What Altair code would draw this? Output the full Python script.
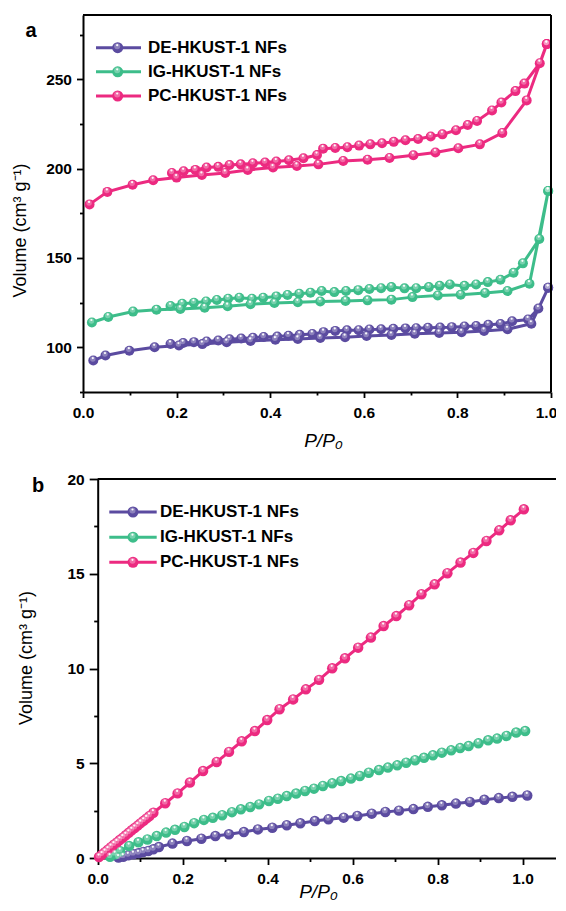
import altair as alt
import pandas as pd

FONT = "Liberation Sans"
SERIES = ["DE-HKUST-1 NFs", "IG-HKUST-1 NFs", "PC-HKUST-1 NFs"]
COLORS = ["#5B4BA0", "#3DBD8A", "#EC2A80"]

# ---------------- panel a : N2 isotherms (adsorption + desorption) ----------------
DE_ADS_X = [0.022, 0.048, 0.099, 0.153, 0.205, 0.255, 0.307, 0.358, 0.411, 0.459, 0.507,
            0.560, 0.606, 0.659, 0.709, 0.761, 0.809, 0.857, 0.907, 0.958, 0.994]
DE_ADS_Y = [92.6, 95.4, 98.1, 100.0, 101.0, 101.8, 102.9, 103.6, 104.3, 104.7, 105.2,
            105.7, 106.4, 106.9, 107.6, 108.0, 108.4, 109.2, 110.1, 113.2, 133.3]
DE_DES_X = [0.994, 0.973, 0.951, 0.917, 0.892, 0.866, 0.840, 0.815, 0.788, 0.763, 0.737,
            0.712, 0.689, 0.663, 0.637, 0.612, 0.589, 0.564, 0.539, 0.514, 0.490, 0.463,
            0.439, 0.415, 0.386, 0.363, 0.338, 0.313, 0.289, 0.264, 0.237, 0.214, 0.187]
DE_DES_Y = [133.3, 121.7, 115.6, 114.6, 113.0, 112.6, 111.9, 111.7, 111.3, 111.1, 111.0,
            110.7, 110.6, 110.4, 110.1, 110.0, 109.6, 109.5, 109.2, 108.5, 107.5, 107.0,
            106.5, 106.0, 105.8, 105.4, 104.9, 104.5, 103.8, 103.3, 102.9, 102.4, 101.9]

IG_ADS_X = [0.019, 0.054, 0.107, 0.157, 0.208, 0.260, 0.309, 0.358, 0.409, 0.459, 0.507,
            0.561, 0.608, 0.659, 0.704, 0.758, 0.807, 0.859, 0.907, 0.954, 0.994]
IG_ADS_Y = [113.9, 117.0, 120.0, 121.1, 121.5, 122.2, 123.0, 124.1, 124.8, 125.2, 125.7,
            126.0, 126.3, 126.7, 128.1, 129.0, 129.4, 130.4, 131.5, 135.6, 187.5]
IG_DES_X = [0.994, 0.975, 0.940, 0.920, 0.892, 0.865, 0.840, 0.815, 0.784, 0.762, 0.739,
            0.712, 0.687, 0.659, 0.637, 0.612, 0.588, 0.562, 0.537, 0.510, 0.486, 0.462,
            0.437, 0.413, 0.385, 0.361, 0.334, 0.310, 0.286, 0.263, 0.237, 0.212, 0.187]
IG_DES_Y = [187.5, 160.6, 147.0, 141.7, 137.8, 136.5, 135.2, 134.4, 135.2, 134.4, 133.7,
            133.1, 133.0, 133.7, 133.1, 132.6, 132.0, 131.5, 130.9, 131.5, 130.6, 130.0,
            129.3, 128.5, 127.8, 127.2, 127.8, 127.2, 126.5, 125.7, 125.0, 124.4, 123.1]

PC_ADS_X = [0.014, 0.052, 0.106, 0.150, 0.200, 0.254, 0.304, 0.352, 0.406, 0.457, 0.503,
            0.556, 0.608, 0.655, 0.706, 0.753, 0.802, 0.848, 0.896, 0.948, 0.991]
PC_ADS_Y = [180.0, 187.0, 191.0, 193.5, 195.0, 196.5, 197.6, 199.3, 200.6, 201.5, 202.4,
            204.3, 205.0, 206.0, 207.5, 209.0, 211.4, 213.6, 220.0, 238.2, 269.7]
PC_DES_X = [0.991, 0.976, 0.943, 0.924, 0.894, 0.874, 0.842, 0.822, 0.797, 0.768, 0.743,
            0.716, 0.689, 0.664, 0.639, 0.614, 0.590, 0.565, 0.539, 0.513, 0.500, 0.471,
            0.440, 0.413, 0.389, 0.363, 0.337, 0.313, 0.289, 0.264, 0.240, 0.215, 0.190]
PC_DES_Y = [269.7, 259.0, 247.6, 243.4, 237.0, 232.6, 226.7, 224.4, 221.5, 219.2, 218.0,
            216.6, 215.9, 215.0, 214.2, 213.6, 212.9, 212.0, 211.6, 211.2, 207.6, 205.8,
            204.7, 204.0, 203.4, 203.0, 202.4, 202.0, 201.0, 200.6, 199.3, 198.5, 197.6]

# ---------------- panel b : low-pressure isotherms ----------------
DE_LOW_X = [0.049, 0.060, 0.072, 0.084, 0.096, 0.107, 0.119, 0.131, 0.144, 0.176, 0.210,
            0.244, 0.277, 0.309, 0.344, 0.377, 0.411, 0.445, 0.477, 0.511, 0.543, 0.579,
            0.611, 0.645, 0.677, 0.709, 0.743, 0.777, 0.810, 0.843, 0.876, 0.910, 0.944,
            0.976, 1.011]
DE_LOW_Y = [0.02, 0.07, 0.14, 0.20, 0.25, 0.32, 0.37, 0.46, 0.58, 0.76, 0.90,
            1.02, 1.16, 1.25, 1.37, 1.51, 1.60, 1.73, 1.83, 1.95, 2.04, 2.13,
            2.22, 2.34, 2.43, 2.50, 2.58, 2.70, 2.78, 2.87, 2.96, 3.07, 3.16,
            3.23, 3.30]

IG_LOW_X = [0.029, 0.041, 0.053, 0.074, 0.096, 0.117, 0.139, 0.161, 0.182, 0.204, 0.227,
            0.250, 0.271, 0.293, 0.316, 0.337, 0.359, 0.380, 0.403, 0.424, 0.445, 0.467,
            0.488, 0.509, 0.530, 0.552, 0.573, 0.596, 0.617, 0.638, 0.662, 0.683, 0.705,
            0.726, 0.747, 0.768, 0.789, 0.810, 0.832, 0.853, 0.873, 0.896, 0.919, 0.940,
            0.962, 0.985, 1.006]
IG_LOW_Y = [0.07, 0.20, 0.36, 0.63, 0.83, 0.98, 1.16, 1.34, 1.49, 1.64, 1.84,
            2.01, 2.12, 2.26, 2.42, 2.57, 2.69, 2.83, 3.01, 3.13, 3.27, 3.40,
            3.54, 3.66, 3.80, 3.94, 4.06, 4.19, 4.33, 4.50, 4.64, 4.77, 4.89,
            5.03, 5.16, 5.29, 5.42, 5.56, 5.68, 5.80, 5.91, 6.05, 6.21, 6.30,
            6.44, 6.62, 6.70]

PC_LOW_X = [0.003, 0.010, 0.017, 0.024, 0.031, 0.038, 0.045, 0.052, 0.059, 0.066, 0.073,
            0.080, 0.087, 0.094, 0.101, 0.108, 0.115, 0.122, 0.131, 0.159, 0.188, 0.217,
            0.248, 0.280, 0.309, 0.339, 0.370, 0.399, 0.428, 0.460, 0.490, 0.521, 0.552,
            0.582, 0.613, 0.643, 0.673, 0.703, 0.733, 0.762, 0.793, 0.823, 0.854, 0.884,
            0.915, 0.945, 0.972, 1.003]
PC_LOW_Y = [0.05, 0.18, 0.31, 0.44, 0.57, 0.70, 0.82, 0.95, 1.07, 1.20, 1.33,
            1.46, 1.58, 1.71, 1.84, 1.96, 2.09, 2.22, 2.39, 2.89, 3.41, 3.98,
            4.59, 5.07, 5.60, 6.16, 6.70, 7.28, 7.85, 8.37, 8.90, 9.40, 10.01,
            10.54, 11.10, 11.63, 12.24, 12.77, 13.34, 13.92, 14.44, 15.03, 15.59, 16.10,
            16.73, 17.29, 17.82, 18.40]

# tick values / frame limits
TOP_X_TICKS = [0.0, 0.1, 0.2, 0.3, 0.4, 0.5, 0.6, 0.7, 0.8, 0.9, 1.0]
TOP_Y_TICKS = [75, 100, 125, 150, 175, 200, 225, 250, 275]
BOT_X_TICKS = [0.0, 0.1, 0.2, 0.3, 0.4, 0.5, 0.6, 0.7, 0.8, 0.9, 1.0]
BOT_Y_TICKS = [0, 2.5, 5, 7.5, 10, 12.5, 15, 17.5, 20]
TOP_X_DOMAIN = [0, 1]
TOP_Y_DOMAIN = [75, 286]
BOT_X_DOMAIN = [0, 1.081]
BOT_Y_DOMAIN = [0, 20]

TOP_W, TOP_H = 468, 377
BOT_W, BOT_H = 474, 379
BOT_X0 = 14.7


def frame(parts):
    rows = []
    for name, xs, ys in parts:
        for i, (x, y) in enumerate(zip(xs, ys)):
            rows.append({"series": name, "p": x, "v": y, "idx": i})
    return pd.DataFrame(rows)


top_df = frame([
    (SERIES[0], DE_ADS_X + DE_DES_X, DE_ADS_Y + DE_DES_Y),
    (SERIES[1], IG_ADS_X + IG_DES_X, IG_ADS_Y + IG_DES_Y),
    (SERIES[2], PC_ADS_X + PC_DES_X, PC_ADS_Y + PC_DES_Y),
])
bot_df = frame([
    (SERIES[0], DE_LOW_X, DE_LOW_Y),
    (SERIES[1], IG_LOW_X, IG_LOW_Y),
    (SERIES[2], PC_LOW_X, PC_LOW_Y),
])
legend_df = pd.DataFrame({"series": SERIES})

MINOR_X = "round(datum.value*10) % 2 == 1"


def color_enc():
    return alt.Color("series:N", scale=alt.Scale(domain=SERIES, range=COLORS), legend=None)


def panel_label(text, x, y):
    return alt.Chart(pd.DataFrame({"t": [text]})).mark_text(
        fontSize=20, fontWeight="bold", align="center", baseline="alphabetic", color="black"
    ).encode(x=alt.value(x), y=alt.value(y), text="t:N")


def hline(x1, x2, y):
    return alt.Chart(pd.DataFrame({"k": [0]})).mark_rule(color="black", strokeWidth=2).encode(
        x=alt.value(x1), x2=alt.value(x2), y=alt.value(y))


def vline(x, y1, y2):
    return alt.Chart(pd.DataFrame({"k": [0]})).mark_rule(color="black", strokeWidth=2).encode(
        x=alt.value(x), y=alt.value(y1), y2=alt.value(y2))


def series_layers(df, x_enc, y_enc, size):
    base = alt.Chart(df)
    line = base.mark_line(strokeWidth=3).encode(x=x_enc, y=y_enc, color=color_enc(), order="idx:Q")
    pts = base.mark_circle(size=size, opacity=1).encode(x="p:Q", y="v:Q", color=color_enc())
    glow = base.mark_circle(size=size * 0.3, color="white", opacity=0.3,
                            xOffset=-0.5, yOffset=-1.5).encode(x="p:Q", y="v:Q")
    dot = base.mark_circle(size=5, color="white", opacity=0.95,
                           xOffset=-0.5, yOffset=-2.5).encode(x="p:Q", y="v:Q")
    return [line, pts, glow, dot]


def legend_block(row_top, row_bottom, x1, x2, xc, xt):
    # legend rows placed by a point scale over the series names
    y_enc = alt.Y("series:N", axis=None,
                  scale=alt.Scale(type="point", domain=SERIES, range=[row_top, row_bottom], padding=0))
    base = alt.Chart(legend_df)
    seg = base.mark_rule(strokeWidth=3).encode(
        x=alt.value(x1), x2=alt.value(x2), y=y_enc, color=color_enc())
    mk = base.mark_circle(size=121, opacity=1).encode(x=alt.value(xc), y=y_enc, color=color_enc())
    glow = base.mark_circle(size=36, color="white", opacity=0.3,
                            xOffset=-0.5, yOffset=-1.5).encode(x=alt.value(xc), y=y_enc)
    dot = base.mark_circle(size=5, color="white", opacity=0.95,
                           xOffset=-0.5, yOffset=-2.5).encode(x=alt.value(xc), y=y_enc)
    txt = base.mark_text(align="left", baseline="middle", fontSize=17, fontWeight="bold",
                         color="black").encode(x=alt.value(xt), y=y_enc, text="series:N")
    return alt.layer(seg, mk, glow, dot, txt)


# ---------------- top panel ----------------
top_x_axis = alt.Axis(
    values=TOP_X_TICKS,
    labelExpr=f"{MINOR_X} ? '' : format(datum.value, '.1f')",
    tickSize={"condition": {"test": MINOR_X, "value": 3}, "value": 5.5},
    labelOffset={"condition": {"test": "datum.value > 0.95", "value": -5}, "value": 0},
    labelPadding=7.5,
    title="P/P₀", titleFontStyle="italic", titleFontSize=19,
    titleX=240, titleY=54, titleBaseline="alphabetic", titleAlign="center",
)
top_y_axis = alt.Axis(
    values=TOP_Y_TICKS,
    labelExpr="datum.value % 50 == 0 ? datum.label : ''",
    tickSize={"condition": {"test": "datum.value % 50 != 0", "value": 3.5}, "value": 6.5},
    labelPadding=5,
    title="Volume (cm³ g⁻¹)", titleFontSize=18,
    titleX=-58, titleY=215, titleAngle=270, titleAlign="center", titleBaseline="alphabetic",
)
top_x = alt.X("p:Q", scale=alt.Scale(domain=TOP_X_DOMAIN, nice=False, zero=False), axis=top_x_axis)
top_y = alt.Y("v:Q", scale=alt.Scale(domain=TOP_Y_DOMAIN, nice=False, zero=False), axis=top_y_axis)

top_main = alt.layer(*series_layers(top_df, top_x, top_y, 100),
                     hline(0, TOP_W, 0), vline(TOP_W, 0, TOP_H),
                     panel_label("a", -52, 21.7))
top_leg = legend_block(32.7, 81.0, 13, 58, 34.7, 65)
top = alt.layer(top_main, top_leg).resolve_scale(y="independent").properties(
    width=TOP_W, height=TOP_H)

# ---------------- bottom panel ----------------
bot_x_axis = alt.Axis(
    values=BOT_X_TICKS,
    labelExpr=f"{MINOR_X} ? '' : format(datum.value, '.1f')",
    tickSize={"condition": {"test": MINOR_X, "value": 3.5}, "value": 6.5},
    labelPadding=7,
    title="P/P₀", titleFontStyle="italic", titleFontSize=19,
    titleX=235, titleY=39.3, titleBaseline="alphabetic", titleAlign="center",
)
bot_y_axis = alt.Axis(
    values=BOT_Y_TICKS, offset=-BOT_X0,
    labelExpr="datum.value % 5 == 0 ? format(datum.value, 'd') : ''",
    tickSize={"condition": {"test": "datum.value % 5 != 0", "value": 4}, "value": 8.5},
    labelPadding=5,
    title="Volume (cm³ g⁻¹)", titleFontSize=18,
    titleX=-66, titleY=178.5, titleAngle=270, titleAlign="center", titleBaseline="alphabetic",
)
bot_x = alt.X("p:Q", scale=alt.Scale(domain=BOT_X_DOMAIN, range=[BOT_X0, BOT_W], nice=False, zero=False),
              axis=bot_x_axis)
bot_y = alt.Y("v:Q", scale=alt.Scale(domain=BOT_Y_DOMAIN, nice=False, zero=False), axis=bot_y_axis)

bot_main = alt.layer(*series_layers(bot_df, bot_x, bot_y, 110),
                     hline(BOT_X0, BOT_W, 0), panel_label("b", -45, 13.3))
bot_leg = legend_block(33.0, 83.3, 26.3, 73.7, 50, 77)
bottom = alt.layer(bot_main, bot_leg).resolve_scale(y="independent").properties(
    width=BOT_W, height=BOT_H)

chart = alt.vconcat(top, bottom, spacing=22).properties(
    padding={"left": 3, "top": 6, "right": -2, "bottom": 0}
).configure(font=FONT).configure_axis(
    labelFont=FONT, titleFont=FONT, labelFontSize=15.5, labelFontWeight="bold",
    labelColor="black", titleColor="black", titleFontWeight="normal",
    domainColor="black", domainWidth=2, tickColor="black", tickWidth=1.8,
    grid=False, labelFlush=False, labelOverlap=False,
).configure_view(stroke=None)

chart.save("out.html", embed_options={"renderer": "svg", "actions": False})
